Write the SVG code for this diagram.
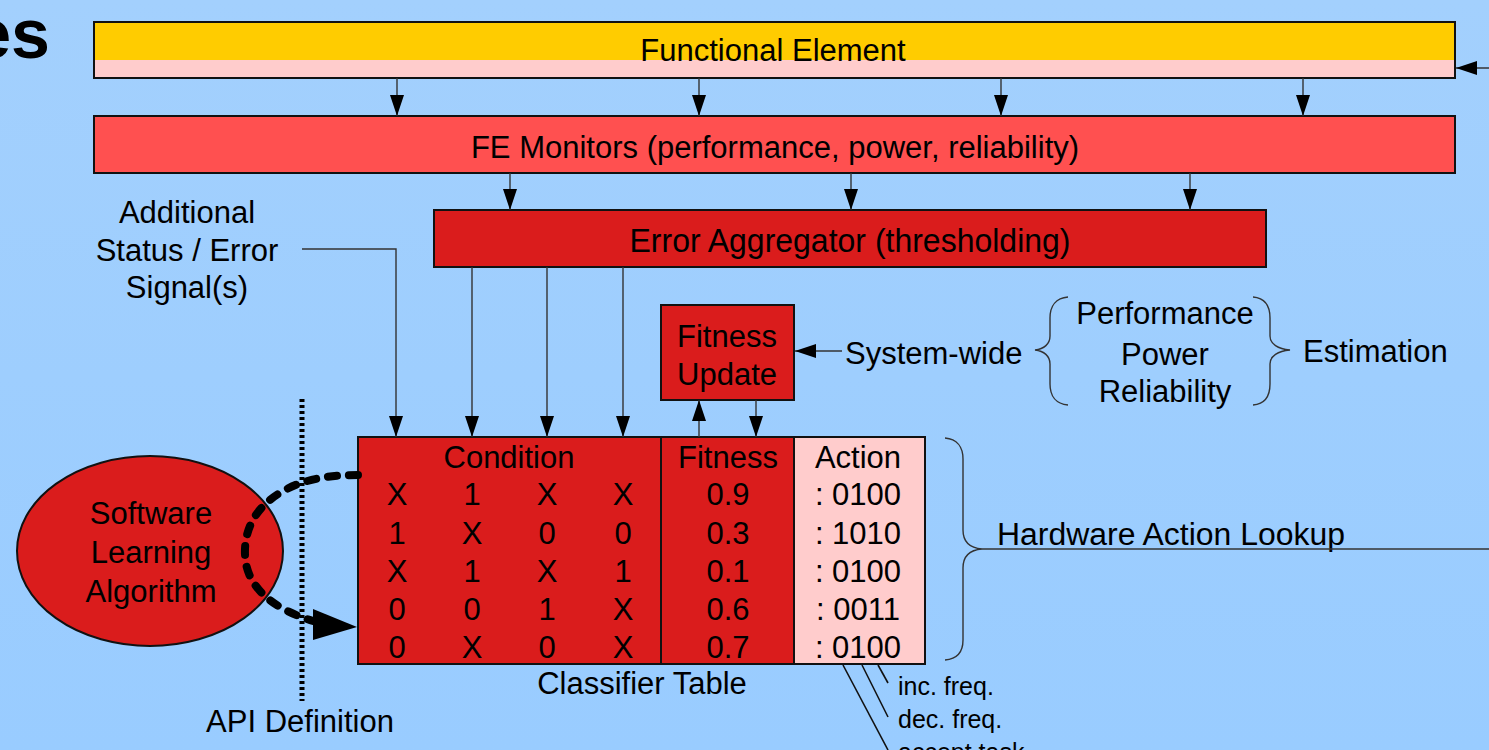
<svg xmlns="http://www.w3.org/2000/svg" width="1489" height="750" viewBox="0 0 1489 750">
  <defs>
    <linearGradient id="bg" x1="0" y1="0" x2="0" y2="1">
      <stop offset="0" stop-color="#a3d0fd"/>
      <stop offset="1" stop-color="#99ccff"/>
    </linearGradient>
    <marker id="arr" markerUnits="userSpaceOnUse" markerWidth="21" markerHeight="14" refX="21" refY="7" orient="auto">
      <path d="M0,0 L21,7 L0,14 Z" fill="#000"/>
    </marker>
    <style>
      text { font-family: "Liberation Sans", Arial, sans-serif; fill: #000; }
      .lbl { font-size: 31px; }
      .mid { text-anchor: middle; }
      .small { font-size: 25px; }
      .box { stroke: #111; stroke-width: 2; }
      .wire { fill: none; stroke: #333; stroke-width: 1.4; }
      .brace { fill: none; stroke: #333; stroke-width: 1.4; }
    </style>
  </defs>

  <rect x="0" y="0" width="1489" height="750" fill="url(#bg)"/>

  <!-- partial slide title -->
  <text x="50" y="58" font-size="70" font-weight="bold" text-anchor="end">es</text>

  <!-- Functional element -->
  <g id="functional-element">
    <rect x="94" y="22" width="1361" height="56" fill="#ffcccc"/>
    <rect x="94" y="22" width="1361" height="38" fill="#ffcc00"/>
    <rect x="94" y="22" width="1361" height="56" fill="none" class="box"/>
    <text x="773" y="61" class="lbl mid">Functional Element</text>
  </g>

  <!-- FE monitors -->
  <g id="fe-monitors">
    <rect x="94" y="116" width="1361" height="57" fill="#ff5050" class="box"/>
    <text x="775" y="158" class="lbl mid">FE Monitors (performance, power, reliability)</text>
  </g>

  <!-- Error aggregator -->
  <g id="error-aggregator">
    <rect x="434" y="210" width="832" height="57" fill="#da1c1c" class="box"/>
    <text x="850" y="252" font-size="33" class="mid" textLength="441" lengthAdjust="spacingAndGlyphs">Error Aggregator (thresholding)</text>
  </g>

  <!-- Additional status label -->
  <g id="status-label">
    <text x="187" y="223" class="lbl mid">Additional</text>
    <text x="187" y="261" class="lbl mid">Status / Error</text>
    <text x="187" y="298" class="lbl mid">Signal(s)</text>
  </g>

  <!-- Fitness update -->
  <g id="fitness-update">
    <rect x="661" y="305" width="133" height="95" fill="#da1c1c" class="box"/>
    <text x="727" y="347" class="lbl mid">Fitness</text>
    <text x="727" y="385" class="lbl mid">Update</text>
  </g>

  <!-- System-wide estimation -->
  <g id="estimation">
    <text x="845" y="364" class="lbl">System-wide</text>
    <path class="brace" d="M1068,297 C1056,298 1050,306 1050,318 L1050,336 C1050,344 1044,349 1035,350 C1044,351 1050,356 1050,364 L1050,384 C1050,396 1056,404 1068,405"/>
    <text x="1165" y="324" class="lbl mid">Performance</text>
    <text x="1165" y="365" class="lbl mid">Power</text>
    <text x="1165" y="402" class="lbl mid">Reliability</text>
    <path class="brace" d="M1253,297 C1265,298 1270,306 1270,318 L1270,336 C1270,344 1278,349 1290,350 C1278,351 1270,356 1270,364 L1270,384 C1270,396 1265,404 1253,405"/>
    <text x="1303" y="362" class="lbl">Estimation</text>
  </g>

  <!-- Classifier table -->
  <g id="classifier-table">
    <rect x="358" y="437" width="436" height="227" fill="#da1c1c"/>
    <rect x="794" y="437" width="131" height="227" fill="#ffcccc"/>
    <rect x="358" y="437" width="567" height="227" fill="none" class="box"/>
    <line x1="661" y1="437" x2="661" y2="664" stroke="#111" stroke-width="2"/>
    <line x1="794" y1="437" x2="794" y2="664" stroke="#111" stroke-width="2"/>
    <g class="lbl mid">
      <text x="509" y="468">Condition</text>
      <text x="728" y="468">Fitness</text>
      <text x="858" y="468">Action</text>

      <text x="397" y="505">X</text><text x="472" y="505">1</text><text x="547" y="505">X</text><text x="623" y="505">X</text>
      <text x="728" y="505">0.9</text><text x="858" y="505">: 0100</text>

      <text x="397" y="544">1</text><text x="472" y="544">X</text><text x="547" y="544">0</text><text x="623" y="544">0</text>
      <text x="728" y="544">0.3</text><text x="858" y="544">: 1010</text>

      <text x="397" y="582">X</text><text x="472" y="582">1</text><text x="547" y="582">X</text><text x="623" y="582">1</text>
      <text x="728" y="582">0.1</text><text x="858" y="582">: 0100</text>

      <text x="397" y="620">0</text><text x="472" y="620">0</text><text x="547" y="620">1</text><text x="623" y="620">X</text>
      <text x="728" y="620">0.6</text><text x="858" y="620">: 0011</text>

      <text x="397" y="658">0</text><text x="472" y="658">X</text><text x="547" y="658">0</text><text x="623" y="658">X</text>
      <text x="728" y="658">0.7</text><text x="858" y="658">: 0100</text>
    </g>
    <text x="642" y="694" class="lbl mid">Classifier Table</text>
  </g>

  <!-- Hardware action lookup -->
  <g id="hardware-lookup">
    <path class="brace" d="M945,438 C957,439 963,447 963,459 L963,530 C963,542 970,548 982,549 C970,550 963,556 963,568 L963,640 C963,652 957,659 945,660"/>
    <text x="997" y="545" class="lbl" textLength="348" lengthAdjust="spacingAndGlyphs">Hardware Action Lookup</text>
  </g>

  <!-- Action bit labels -->
  <g id="action-bits">
    <text x="898" y="695" class="small">inc. freq.</text>
    <text x="898" y="728" class="small">dec. freq.</text>
    <text x="898" y="761" class="small">accept task</text>
  </g>

  <!-- Software learning algorithm -->
  <g id="software-algorithm">
    <ellipse cx="150" cy="551" rx="133" ry="95" fill="#da1c1c" stroke="#111" stroke-width="2"/>
    <text x="151" y="524" class="lbl mid">Software</text>
    <text x="151" y="563" class="lbl mid">Learning</text>
    <text x="151" y="602" class="lbl mid">Algorithm</text>
  </g>

  <!-- API boundary -->
  <g id="api-definition">
    <line x1="302" y1="399" x2="302" y2="701" stroke="#000" stroke-width="5" stroke-dasharray="3 3"/>
    <text x="300" y="732" class="lbl mid">API Definition</text>
  </g>

  <!-- Connectors -->
  <g id="connectors">
    <!-- external input into the functional element -->
    <line class="wire" x1="1489" y1="68" x2="1456" y2="68" marker-end="url(#arr)"/>
    <!-- functional element to monitors -->
    <line class="wire" x1="397" y1="78" x2="397" y2="116" marker-end="url(#arr)"/>
    <line class="wire" x1="699" y1="78" x2="699" y2="116" marker-end="url(#arr)"/>
    <line class="wire" x1="1001" y1="78" x2="1001" y2="116" marker-end="url(#arr)"/>
    <line class="wire" x1="1303" y1="78" x2="1303" y2="116" marker-end="url(#arr)"/>
    <!-- monitors to aggregator -->
    <line class="wire" x1="510" y1="173" x2="510" y2="210" marker-end="url(#arr)"/>
    <line class="wire" x1="851" y1="173" x2="851" y2="210" marker-end="url(#arr)"/>
    <line class="wire" x1="1190" y1="173" x2="1190" y2="210" marker-end="url(#arr)"/>
    <!-- status signals and aggregator outputs into the condition field -->
    <polyline class="wire" points="302,249 396,249 396,437" marker-end="url(#arr)"/>
    <line class="wire" x1="472" y1="267" x2="472" y2="437" marker-end="url(#arr)"/>
    <line class="wire" x1="547" y1="267" x2="547" y2="437" marker-end="url(#arr)"/>
    <line class="wire" x1="623" y1="267" x2="623" y2="437" marker-end="url(#arr)"/>
    <!-- fitness update loop -->
    <line class="wire" x1="699" y1="437" x2="699" y2="400" marker-end="url(#arr)"/>
    <line class="wire" x1="756" y1="400" x2="756" y2="437" marker-end="url(#arr)"/>
    <line class="wire" x1="842" y1="351" x2="795" y2="351" marker-end="url(#arr)"/>
    <!-- lookup output -->
    <line class="wire" x1="982" y1="549" x2="1489" y2="549"/>
    <!-- action bit leaders -->
    <line stroke="#111" stroke-width="1.6" x1="843" y1="665" x2="888" y2="750"/>
    <line stroke="#111" stroke-width="1.6" x1="862" y1="665" x2="888" y2="717"/>
    <line stroke="#111" stroke-width="1.6" x1="878" y1="665" x2="888" y2="683"/>
    <!-- software access path across the API -->
    <path d="M358,475 C330,475 305,479 285,490 C255,506 244,530 245,555 C246,585 270,608 313,621" fill="none" stroke="#000" stroke-width="8" stroke-linecap="round" stroke-dasharray="9 12"/>
    <polygon points="357,627 313,609 313,640" fill="#000"/>
  </g>
</svg>
